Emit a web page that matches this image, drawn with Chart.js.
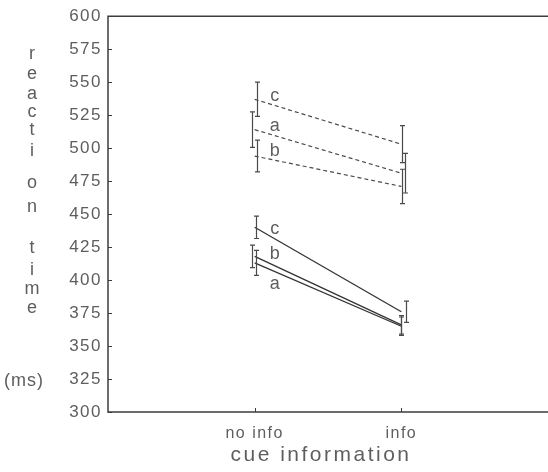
<!DOCTYPE html>
<html>
<head>
<meta charset="utf-8">
<title>reaction time by cue information</title>
<script src="https://cdn.jsdelivr.net/npm/chart.js@4.4.1/dist/chart.umd.min.js"></script>
<style>
  html, body { margin: 0; padding: 0; background: #fff; }
  #wrap { width: 548px; height: 472px; position: relative; }
</style>
</head>
<body>
<div id="wrap"><canvas id="rtChart"></canvas></div>
<script>
// --- data ---
const categories = ['no info', 'info'];
const yMin = 300, yMax = 600, yStep = 25;

// dashed group (means and error half-widths, ms)
const dashedC = [537, 503];
const dashedCErr = [13, 14];
const dashedA = [514, 481];
const dashedAErr = [13.5, 15];
const dashedB = [494, 471];
const dashedBErr = [12, 13];

// solid group
const solidC = [440, 376];
const solidCErr = [8.5, 8];
const solidB = [418, 366];
const solidBErr = [8.5, 7];
const solidA = [413, 365];
const solidAErr = [9.5, 7];

const yTitle = ['r', 'e', 'a', 'c', 't', 'i', 'o', 'n', 't', 'i', 'm', 'e'];

// --- styles ---
const inkDark = '#333';
const inkText = '#5e5e5e';
const fontName = '"Liberation Sans", Arial, sans-serif';
// baseline y of each stacked title letter
const yTitleBase = [59, 79, 99, 117, 135, 156, 188, 212, 253, 275, 294, 313];

function toPoints(values) {
    return values.map((v, i) => ({ x: i + 1, y: v }));
}

function series(tag, values, err, dashed, labelDy, barDx) {
    return {
        label: tag,
        data: toPoints(values),
        err: err,
        labelDy: labelDy,
        barDx: barDx,
        borderColor: dashed ? '#4a4a4a' : inkDark,
        borderWidth: dashed ? 1.2 : 1.3,
        borderDash: dashed ? [4, 3] : [],
        pointRadius: 0,
        fill: false,
        tension: 0
    };
}

const datasets = [
    series('c', dashedC, dashedCErr, true, -3, [2, 1]),
    series('a', dashedA, dashedAErr, true, -4, [-3, 4]),
    series('b', dashedB, dashedBErr, true, -5, [2, 1]),
    series('c', solidC, solidCErr, false, 2, [1, 5]),
    series('b', solidB, solidBErr, false, -2, [-3, 0]),
    series('a', solidA, solidAErr, false, 21, [1, 0])
];

// wide-looking text like the original scan
const spacing = {
    id: 'spacing',
    beforeLayout(chart) { chart.ctx.letterSpacing = '1.5px'; },
    beforeDraw(chart) { chart.ctx.letterSpacing = '1.5px'; }
};

// frame, inward tick marks
const frame = {
    id: 'frame',
    afterDraw(chart) {
        const { ctx, chartArea: a, scales } = chart;
        ctx.save();
        ctx.strokeStyle = '#3c3c3c';
        ctx.lineWidth = 1.5;
        ctx.beginPath();
        ctx.moveTo(a.right, a.top);
        ctx.lineTo(a.left, a.top);
        ctx.lineTo(a.left, a.bottom);
        ctx.lineTo(a.right, a.bottom);
        ctx.stroke();
        ctx.lineWidth = 1;
        ctx.beginPath();
        scales.y.ticks.forEach(t => {
            const py = Math.round(scales.y.getPixelForValue(t.value)) + 0.5;
            ctx.moveTo(a.left, py);
            ctx.lineTo(a.left + 4, py);
        });
        scales.x.ticks.forEach(t => {
            const px = Math.round(scales.x.getPixelForValue(t.value)) + 0.5;
            ctx.moveTo(px, a.bottom);
            ctx.lineTo(px, a.bottom - 4);
        });
        ctx.stroke();
        ctx.restore();
    }
};

// error bars and series letters
const marks = {
    id: 'marks',
    afterDatasetsDraw(chart) {
        const { ctx, scales } = chart;
        ctx.save();
        ctx.strokeStyle = '#4a4a4a';
        ctx.lineWidth = 1.2;
        chart.data.datasets.forEach((ds, i) => {
            const meta = chart.getDatasetMeta(i);
            meta.data.forEach((pt, j) => {
                const v = ds.data[j].y;
                const x = Math.round(pt.x + ds.barDx[j]) + 0.5;
                const top = scales.y.getPixelForValue(v + ds.err[j]);
                const bot = scales.y.getPixelForValue(v - ds.err[j]);
                ctx.beginPath();
                ctx.moveTo(x, top);
                ctx.lineTo(x, bot);
                ctx.moveTo(x - 2.5, top);
                ctx.lineTo(x + 2.5, top);
                ctx.moveTo(x - 2.5, bot);
                ctx.lineTo(x + 2.5, bot);
                ctx.stroke();
            });
            const first = meta.data[0];
            ctx.fillStyle = inkText;
            ctx.font = '18px ' + fontName;
            ctx.letterSpacing = '0px';
            ctx.textAlign = 'center';
            ctx.textBaseline = 'middle';
            ctx.fillText(ds.label, first.x + 20, first.y + ds.labelDy);
        });
        ctx.restore();
    }
};

// axis titles drawn as text
const titles = {
    id: 'titles',
    afterDraw(chart) {
        const ctx = chart.ctx;
        ctx.save();
        ctx.fillStyle = inkText;
        ctx.textBaseline = 'alphabetic';
        ctx.textAlign = 'center';
        ctx.font = '18px ' + fontName;
        ctx.letterSpacing = '0px';
        yTitle.forEach((ch, i) => ctx.fillText(ch, 32, yTitleBase[i]));
        ctx.letterSpacing = '1px';
        ctx.fillText('(ms)', 24, 386);
        ctx.font = '21px ' + fontName;
        ctx.letterSpacing = '2.5px';
        ctx.fillText('cue information', 321, 461);
        ctx.restore();
    }
};

new Chart(document.getElementById('rtChart'), {
    type: 'line',
    data: { datasets: datasets },
    plugins: [spacing, frame, marks, titles],
    options: {
        responsive: true,
        maintainAspectRatio: false,
        animation: false,
        layout: { padding: { top: 16, right: 0, bottom: 0, left: 0 } },
        plugins: { legend: { display: false }, tooltip: { enabled: false } },
        scales: {
            x: {
                type: 'linear',
                min: 0,
                max: categories.length + 1,
                afterBuildTicks: s => { s.ticks = categories.map((c, i) => ({ value: i + 1 })); },
                afterFit: s => { s.height = 60; },
                grid: { display: false, drawTicks: false },
                border: { display: false },
                ticks: {
                    padding: 12,
                    color: inkText,
                    font: { family: fontName, size: 16 },
                    callback: v => categories[v - 1]
                }
            },
            y: {
                min: yMin,
                max: yMax,
                afterFit: s => { s.width = 108; },
                grid: { display: false, drawTicks: false },
                border: { display: false },
                ticks: {
                    stepSize: yStep,
                    padding: 6,
                    color: inkText,
                    font: { family: fontName, size: 17 }
                }
            }
        }
    }
});
</script>
</body>
</html>
